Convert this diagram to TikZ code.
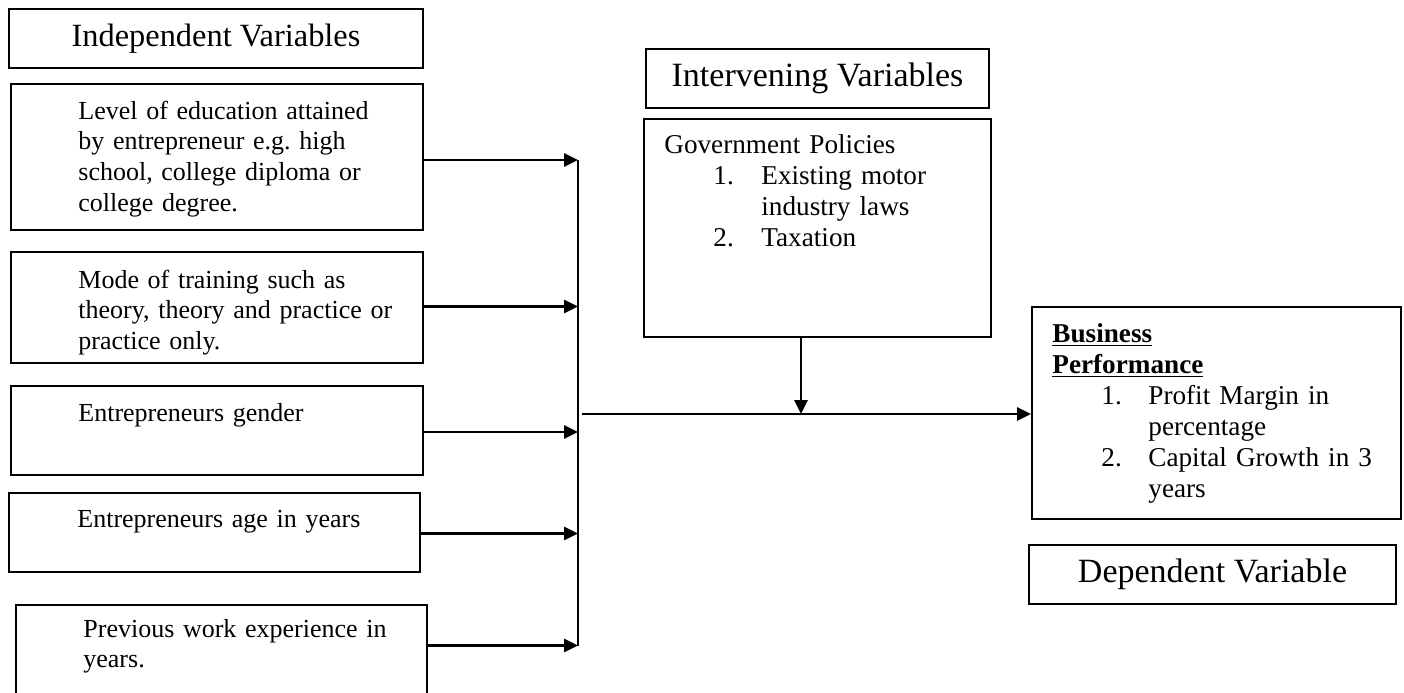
\documentclass[tikz,border=0pt]{standalone}
\usepackage{fontspec}
\setmainfont{Liberation Serif}
\usetikzlibrary{arrows.meta}
\frenchspacing
\tikzset{
  box/.style={draw, line width=1pt, inner sep=0pt, anchor=north west},
  hdr/.style={font=\fontsize{16.2}{18}\selectfont},
  hdrr/.style={font=\fontsize{17}{19}\selectfont},
  ltxt/.style={anchor=base west, inner sep=0pt, text width=180pt, align=left,
               font=\frenchspacing\fontsize{13.0}{15.35}\selectfont},
  rtxt/.style={anchor=base west, inner sep=0pt, text width=170pt, align=left,
               font=\frenchspacing\fontsize{13.6}{15.5}\selectfont},
  conn/.style={line width=1.35pt},
  arr/.style={conn, -{Triangle[length=7pt,width=6.5pt]}}
}
\begin{document}
\begin{tikzpicture}[x=0.5pt,y=-0.5pt]
\useasboundingbox (0,0) rectangle (1404,692);
% left column
\node[box, hdr, minimum width=207pt, minimum height=29.5pt] (hI) at (8,8) {Independent Variables};
\node[box, minimum width=206pt, minimum height=73pt] (b1) at (10,83) {};
\node[box, minimum width=206pt, minimum height=55.5pt] (b2) at (10,251) {};
\node[box, minimum width=206pt, minimum height=44.5pt] (b3) at (10,385) {};
\node[box, minimum width=205.5pt, minimum height=39.5pt] (b4) at (8,492) {};
\node[box, minimum width=205.5pt, minimum height=60pt] (b5) at (15,603.5) {};
\node[ltxt] (t1) at (78,119) {Level of education attained\\by entrepreneur e.g. high\\school, college diploma or\\college degree.};
\node[ltxt] (t2) at (78,288) {Mode of training such as\\theory, theory and practice or\\practice only.};
\node[ltxt] (t3) at (78,421) {Entrepreneurs gender};
\node[ltxt] (t4) at (77,527) {Entrepreneurs age in years};
\node[ltxt] (t5) at (83,637) {Previous work experience in\\years.};
% middle
\node[box, hdrr, minimum width=171.5pt, minimum height=29.5pt] (hV) at (645,48) {Intervening Variables};
\node[box, minimum width=173.5pt, minimum height=109pt] (gov) at (643,118) {};
\node[rtxt] (tg) at (664,153) {Government Policies\\
\hspace*{24.5pt}\makebox[24pt][l]{1.}Existing motor\\
\hspace*{48.5pt}industry laws\\
\hspace*{24.5pt}\makebox[24pt][l]{2.}Taxation};
% right
\node[box, minimum width=184.5pt, minimum height=106pt] (bus) at (1031,306) {};
\node[rtxt] (tb) at (1052,342) {\underline{\textbf{Business}}\\
\underline{\textbf{Performance}}\\
\hspace*{24.5pt}\makebox[23.5pt][l]{1.}Profit Margin in\\
\hspace*{48pt}percentage\\
\hspace*{24.5pt}\makebox[23.5pt][l]{2.}Capital Growth in 3\\
\hspace*{48pt}years};
\node[box, hdrr, minimum width=183.5pt, minimum height=29.5pt] (hD) at (1028,544) {Dependent Variable};
% connectors
\coordinate (c1) at (578,160);
\coordinate (c2) at (578,306.5);
\coordinate (c3) at (578,432);
\coordinate (c4) at (578,533.5);
\coordinate (c5) at (578,645.5);
\coordinate (m) at (582,414);
\coordinate (d) at (801,414);
\draw[arr] (b1.east |- c1) -- (c1);
\draw[arr] (b2.east |- c2) -- (c2);
\draw[arr] (b3.east |- c3) -- (c3);
\draw[arr] (b4.east |- c4) -- (c4);
\draw[arr] (b5.east |- c5) -- (c5);
\draw[conn] (c1) -- (c5);
\draw[arr] (m) -- (bus.west |- m);
\draw[arr] (gov.south -| d) -- (d);
\end{tikzpicture}
\end{document}
